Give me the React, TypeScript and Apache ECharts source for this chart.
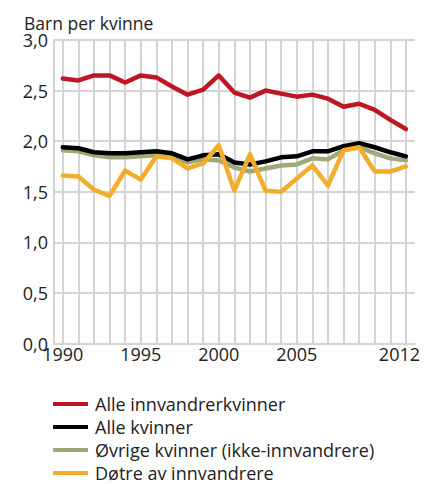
import React, { useEffect, useRef } from "react";
import * as echarts from "echarts";

const years = [1990,1991,1992,1993,1994,1995,1996,1997,1998,1999,2000,2001,2002,2003,2004,2005,2006,2007,2008,2009,2010,2011,2012];
const xLabelYears = [1990, 1995, 2000, 2005, 2012];
const yTicks = [0, 0.5, 1, 1.5, 2, 2.5, 3];

const seriesNames = [
  "Alle innvandrerkvinner",
  "Alle kvinner",
  "Øvrige kvinner (ikke-innvandrere)",
  "Døtre av innvandrere",
];

const alleInnvandrerkvinner = [2.62,2.60,2.65,2.65,2.58,2.65,2.63,2.54,2.46,2.51,2.65,2.48,2.43,2.50,2.47,2.44,2.46,2.42,2.34,2.37,2.31,2.21,2.12];
const alleKvinner = [1.94,1.93,1.89,1.88,1.88,1.89,1.90,1.88,1.82,1.86,1.87,1.79,1.77,1.80,1.84,1.85,1.90,1.90,1.95,1.98,1.94,1.89,1.85];
const ovrigeKvinner = [1.91,1.90,1.86,1.84,1.84,1.85,1.86,1.85,1.79,1.82,1.81,1.74,1.70,1.73,1.76,1.77,1.83,1.82,1.91,1.94,1.88,1.83,1.81];
const dotreAvInnvandrere = [1.66,1.65,1.52,1.46,1.71,1.62,1.85,1.83,1.73,1.78,1.96,1.51,1.87,1.51,1.50,1.63,1.76,1.56,1.91,1.94,1.70,1.70,1.75];

const colors = ["#be1622", "#000000", "#9ea878", "#f2ae2a"];
const FONT = "'Open Sans', 'Noto Sans', sans-serif";

export default function App() {
  const ref = useRef<HTMLDivElement>(null);
  useEffect(() => {
    if (!ref.current) return;
    const chart = echarts.init(ref.current, undefined, { renderer: "svg" });
    const values = [alleInnvandrerkvinner, alleKvinner, ovrigeKvinner, dotreAvInnvandrere];
    const mk = (i: number, z: number) => ({
      name: seriesNames[i],
      type: "line",
      data: years.map((y, k) => [y, values[i][k]]),
      showSymbol: false,
      symbol: "none",
      z,
      lineStyle: { color: colors[i], width: 4.5, join: "round", cap: "round" },
      itemStyle: { color: colors[i] },
    });
    chart.setOption({
      animation: false,
      textStyle: { fontFamily: FONT },
      title: {
        text: "Barn per kvinne",
        left: 19,
        top: 8,
        textStyle: { fontFamily: FONT, fontSize: 17.5, fontWeight: "normal", color: "#222", lineHeight: 19 },
      },
      legend: {
        orient: "vertical",
        left: 53,
        top: 394,
        height: 120,
        padding: 0,
        itemWidth: 35,
        itemHeight: 4,
        itemGap: 3,
        icon: "rect",
        data: seriesNames,
        textStyle: { fontFamily: FONT, fontSize: 18, color: "#222", lineHeight: 20, padding: [0, 0, 0, 2] },
      },
      grid: { left: 54, right: 13, top: 40, bottom: 140.5 },
      xAxis: {
        type: "value",
        min: 1989.436,
        max: 2012.564,
        axisLine: { show: true, lineStyle: { color: "#d4d4d4", width: 2 } },
        axisTick: { show: false, customValues: years },
        splitLine: { show: true, lineStyle: { color: "#d4d4d4", width: 2 } },
        axisLabel: {
          customValues: xLabelYears,
          margin: 1,
          fontFamily: FONT,
          fontSize: 18,
          lineHeight: 18,
          color: "#222",
          formatter: (v: number) => (v === 2012 ? "{b|" + v + "}" : String(v)),
          rich: { b: { fontFamily: FONT, fontSize: 18, lineHeight: 18, color: "#222", padding: [0, 13, 0, 0] } },
        },
      },
      yAxis: {
        type: "value",
        min: 0,
        max: 3,
        interval: 0.5,
        axisLine: { show: true, lineStyle: { color: "#d4d4d4", width: 2 } },
        axisTick: { show: false },
        splitLine: { show: true, lineStyle: { color: "#d4d4d4", width: 2 } },
        axisLabel: {
          margin: 6,
          fontFamily: FONT,
          fontSize: 18,
          lineHeight: 18,
          color: "#222",
          formatter: (v: number) => (yTicks.includes(v) ? v.toFixed(1).replace(".", ",") : ""),
        },
      },
      series: [mk(2, 2), mk(1, 3), mk(0, 4), mk(3, 5)],
    });
    return () => chart.dispose();
  }, []);
  return <div ref={ref} style={{ width: 436, height: 484, position: "absolute", left: 0, top: 0 }} />;
}
